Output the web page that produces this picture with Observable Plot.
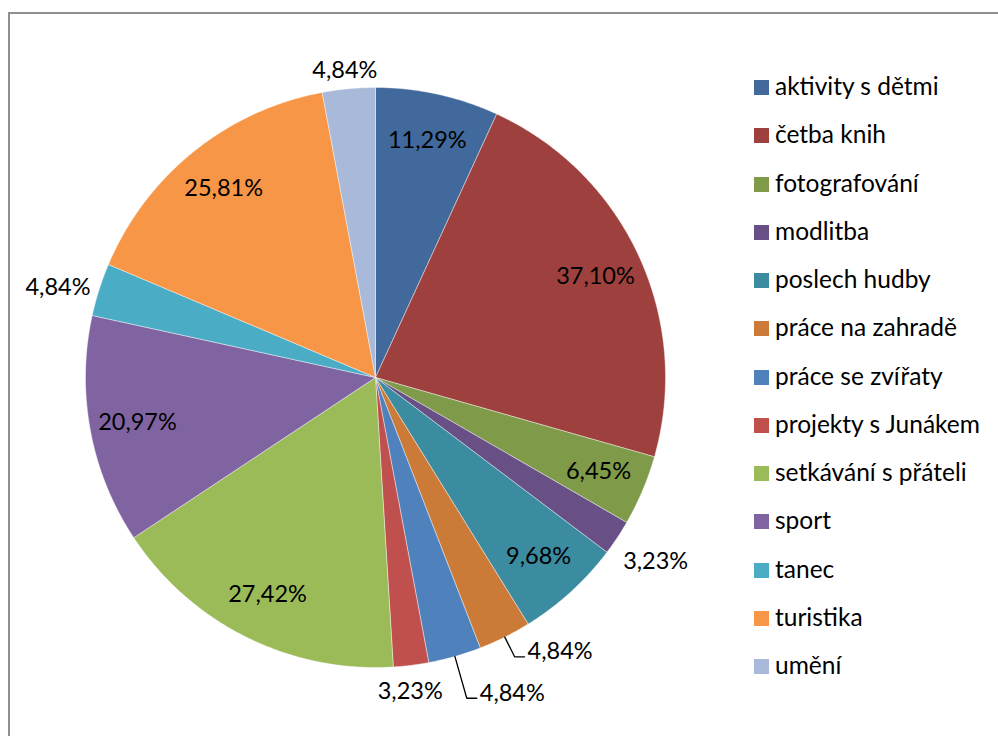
<!DOCTYPE html>
<html>
<head>
<meta charset="utf-8">
<script src="https://cdn.jsdelivr.net/npm/d3@7"></script>
<script src="https://cdn.jsdelivr.net/npm/@observablehq/plot@0.6"></script>
<style>
  body { margin: 0; background: #fff; }
  #wrap { position: relative; width: 998px; height: 736px; overflow: hidden; font-family: Lato, "Open Sans", sans-serif; }
  #frame { position: absolute; left: 8px; top: 12px; width: 1200px; height: 1000px; border: 2px solid #8e8e8e; box-sizing: border-box; }
  #chart { position: absolute; left: 0; top: 0; }
  .lg { position: absolute; left: 754px; height: 24px; line-height: 24px; font-size: 24.5px; color: #000; white-space: nowrap; }
  .lg i { position: absolute; left: 0; top: 5px; width: 15px; height: 15px; }
  .lg span { position: absolute; left: 21px; top: -1px; }
</style>
</head>
<body>
<div id="wrap">
  <div id="frame"></div>
  <div id="chart"></div>
  <div id="legend"></div>
</div>
<script>
// ---- data ----
const categories = [
  "aktivity s dětmi", "četba knih", "fotografování", "modlitba", "poslech hudby",
  "práce na zahradě", "práce se zvířaty", "projekty s Junákem", "setkávání s přáteli",
  "sport", "tanec", "turistika", "umění"
];
const percentages = [11.29, 37.10, 6.45, 3.23, 9.68, 4.84, 4.84, 3.23, 27.42, 20.97, 4.84, 25.81, 4.84];
const colors = [
  "#41699c", "#9e413e", "#7f9a48", "#684f85", "#3b8ba1", "#cc7a37",
  "#4f81bd", "#c0504d", "#9bbb59", "#8064a2", "#4bacc6", "#f79646", "#a8b9da"
];

// ---- label placement (layout, not data) ----
const insideRadius = 0.835;
const outsideLabels = {
  "modlitba": { r: 1.045, dx: 0, dy: 11 },
  "projekty s Junákem": { r: 1.058, dx: -7, dy: 0 },
  "tanec": { r: 1.035, dx: 0, dy: 4 },
  "umění": { r: 1.03, dx: 0, dy: 0 },
  "práce na zahradě": { leader: 1.076 },
  "práce se zvířaty": { leader: 1.15 }
};

const R = 290;           // pixel radius
const total = d3.sum(percentages);
const fmt = v => v.toFixed(2).replace(".", ",") + "%";

// build slices
let acc = 0;
const slices = categories.map((c, i) => {
  const a0 = acc / total * 2 * Math.PI;
  acc += percentages[i];
  const a1 = acc / total * 2 * Math.PI;
  return { category: c, value: percentages[i], a0, a1, mid: (a0 + a1) / 2 };
});

const polyPts = [];
for (const s of slices) {
  polyPts.push({ category: s.category, x: 0, y: 0 });
  const n = Math.max(2, Math.ceil((s.a1 - s.a0) / (Math.PI / 360)));
  for (let k = 0; k <= n; k++) {
    const t = s.a0 + (s.a1 - s.a0) * k / n;
    polyPts.push({ category: s.category, x: Math.sin(t), y: Math.cos(t) });
  }
  polyPts.push({ category: s.category, x: 0, y: 0 });
}

const labelsMid = [];
const labelsStart = [];
const leaders = [];
const hw = 33 / R, hh = 10 / R;
for (const s of slices) {
  const sn = Math.sin(s.mid), cs = Math.cos(s.mid);
  const o = outsideLabels[s.category];
  if (!o) {
    labelsMid.push({ x: insideRadius * sn, y: insideRadius * cs, text: fmt(s.value) });
  } else if (o.leader) {
    const ex = o.leader * sn, ey = o.leader * cs;
    leaders.push({ category: s.category, x: sn, y: cs });
    leaders.push({ category: s.category, x: ex, y: ey });
    leaders.push({ category: s.category, x: ex + 10 / R, y: ey });
    labelsStart.push({ x: ex + 13 / R, y: ey, text: fmt(s.value) });
  } else {
    labelsMid.push({
      x: (o.r + hw) * sn + o.dx / R,
      y: (o.r + hh) * cs - o.dy / R,
      text: fmt(s.value)
    });
  }
}

const plot = Plot.plot({
  width: 998,
  height: 736,
  margin: 0,
  style: { background: "transparent", fontFamily: "Lato, 'Open Sans', sans-serif" },
  x: { domain: [-1, 1], range: [375 - R, 375 + R], axis: null },
  y: { domain: [-1, 1], range: [377 + R, 377 - R], axis: null },
  color: { domain: categories, range: colors },
  marks: [
    Plot.line(polyPts, { x: "x", y: "y", z: "category", fill: "category", stroke: "#ffffff", strokeWidth: 0.6, strokeOpacity: 0.7, curve: "linear" }),
    Plot.line(leaders, { x: "x", y: "y", z: "category", stroke: "#000", strokeWidth: 1.3 }),
    Plot.text(labelsMid, { x: "x", y: "y", text: "text", textAnchor: "middle", fontSize: 23.5, fill: "#000" }),
    Plot.text(labelsStart, { x: "x", y: "y", text: "text", textAnchor: "start", dy: -5, fontSize: 23.5, fill: "#000" })
  ]
});
document.getElementById("chart").appendChild(plot);

// legend
const lg = document.getElementById("legend");
categories.forEach((c, i) => {
  const row = document.createElement("div");
  row.className = "lg";
  row.style.top = (87 + i * 48.25 - 12) + "px";
  row.innerHTML = `<i style="background:${colors[i]}"></i><span>${c}</span>`;
  lg.appendChild(row);
});
</script>
</body>
</html>
